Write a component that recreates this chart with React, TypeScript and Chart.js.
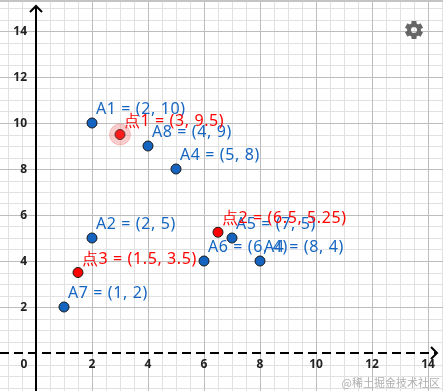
import React, { useEffect, useRef } from "react";
import { Chart, registerables } from "chart.js";

Chart.register(...registerables);

const blueX = [2, 2, 5, 7, 6, 1, 4, 8];
const blueY = [10, 5, 8, 5, 4, 2, 9, 4];
const blueLabels = ["A1 = (2, 10)", "A2 = (2, 5)", "A4 = (5, 8)", "A5 = (7, 5)", "A6 = (6, 4)", "A7 = (1, 2)", "A8 = (4, 9)", "A4 = (8, 4)"];
const redX = [3, 6.5, 1.5];
const redY = [9.5, 5.25, 3.5];
const redLabels = ["点1 = (3, 9.5)", "点2 = (6.5, 5.25)", "点3 = (1.5, 3.5)"];
const selectedIndex = 0;
const xTicks = [0, 2, 4, 6, 8, 10, 12, 14];
const yTicks = [2, 4, 6, 8, 10, 12, 14];
const watermark = "@稀土掘金技术社区";

const X_MIN = -36 / 28;
const X_MAX = (443 - 36) / 28;
const Y_MAX = 353 / 23;
const Y_MIN = -38 / 23;

const LABEL_FONT = '16px "Noto Sans", sans-serif';

const geoPlugin = {
  id: "geo",
  beforeDatasetsDraw(chart: any) {
    const ctx = chart.ctx as CanvasRenderingContext2D;
    const xs = chart.scales.x;
    const ys = chart.scales.y;
    const W = chart.width;
    const H = chart.height;
    ctx.save();
    ctx.fillStyle = "#ffffff";
    ctx.fillRect(0, 0, W, H);
    // minor grid
    ctx.lineWidth = 1;
    ctx.strokeStyle = "#e1e1e1";
    for (let v = -1; v <= 14.5; v += 0.5) {
      if (v % 2 === 0) continue;
      const p = Math.round(xs.getPixelForValue(v)) + 0.5;
      ctx.beginPath(); ctx.moveTo(p, 0); ctx.lineTo(p, H); ctx.stroke();
    }
    for (let v = -1.5; v <= 15.5; v += 0.5) {
      if (v % 2 === 0) continue;
      const p = Math.round(ys.getPixelForValue(v)) + 0.5;
      ctx.beginPath(); ctx.moveTo(0, p); ctx.lineTo(W, p); ctx.stroke();
    }
    // major grid
    ctx.strokeStyle = "#bdbdbd";
    for (let v = 2; v <= 14; v += 2) {
      const p = Math.round(xs.getPixelForValue(v)) + 0.5;
      ctx.beginPath(); ctx.moveTo(p, 0); ctx.lineTo(p, H); ctx.stroke();
    }
    for (let v = 2; v <= 14; v += 2) {
      const p = Math.round(ys.getPixelForValue(v)) + 0.5;
      ctx.beginPath(); ctx.moveTo(0, p); ctx.lineTo(W, p); ctx.stroke();
    }
    // top border
    ctx.fillStyle = "#c4c4c4";
    ctx.fillRect(0, 0, W, 2);

    const x0 = xs.getPixelForValue(0);
    const y0 = ys.getPixelForValue(0);
    // y axis
    ctx.strokeStyle = "#000";
    ctx.lineWidth = 2;
    ctx.beginPath(); ctx.moveTo(x0, 6); ctx.lineTo(x0, H); ctx.stroke();
    ctx.beginPath(); ctx.moveTo(x0 - 6, 12); ctx.lineTo(x0, 6); ctx.lineTo(x0 + 6, 12); ctx.stroke();
    // x axis (dashed)
    ctx.setLineDash([9, 5]);
    ctx.beginPath(); ctx.moveTo(0, y0); ctx.lineTo(W - 6, y0); ctx.stroke();
    ctx.setLineDash([]);
    ctx.beginPath(); ctx.moveTo(W - 12, y0 - 6); ctx.lineTo(W - 6, y0); ctx.lineTo(W - 12, y0 + 6); ctx.stroke();

    // tick labels
    ctx.fillStyle = "#222";
    ctx.font = 'bold 12px "Noto Sans", sans-serif';
    ctx.textAlign = "right";
    ctx.textBaseline = "middle";
    yTicks.forEach((v) => {
      ctx.fillText(String(v), x0 - 9, ys.getPixelForValue(v) + 1);
    });
    ctx.textAlign = "center";
    xTicks.forEach((v) => {
      const px = v === 0 ? x0 - 12 : xs.getPixelForValue(v);
      ctx.fillText(String(v), px, y0 + 12);
    });

    // point labels
    ctx.font = LABEL_FONT;
    (ctx as any).letterSpacing = "0.6px";
    ctx.textAlign = "left";
    ctx.textBaseline = "alphabetic";
    ctx.fillStyle = "#1565c0";
    blueX.forEach((x, i) => {
      ctx.fillText(blueLabels[i], xs.getPixelForValue(x) + 4, ys.getPixelForValue(blueY[i]) - 9);
    });
    ctx.fillStyle = "#ff0000";
    redX.forEach((x, i) => {
      ctx.fillText(redLabels[i], xs.getPixelForValue(x) + 4, ys.getPixelForValue(redY[i]) - 9);
    });
    (ctx as any).letterSpacing = "0px";
    ctx.restore();
  },
  afterDraw(chart: any) {
    const ctx = chart.ctx as CanvasRenderingContext2D;
    const W = chart.width;
    const H = chart.height;
    ctx.save();
    // gear icon
    const cx = 414, cy = 30;
    ctx.fillStyle = "#666";
    for (let k = 0; k < 6; k++) {
      const a = (k * Math.PI) / 3;
      ctx.save();
      ctx.translate(cx, cy);
      ctx.rotate(a);
      ctx.fillRect(-2.5, -9, 5, 4);
      ctx.restore();
    }
    ctx.beginPath();
    ctx.arc(cx, cy, 7, 0, Math.PI * 2);
    ctx.arc(cx, cy, 3, 0, Math.PI * 2, true);
    ctx.fill();
    // watermark
    ctx.fillStyle = "#b0b0b0";
    ctx.font = '11px "Noto Sans CJK SC", sans-serif';
    ctx.textAlign = "right";
    ctx.textBaseline = "middle";
    ctx.fillText(watermark, W - 3, H - 8);
    ctx.restore();
  },
};

export default function App() {
  const ref = useRef<HTMLCanvasElement>(null);
  useEffect(() => {
    document.body.style.margin = "0";
    const chart = new Chart(ref.current as HTMLCanvasElement, {
      type: "scatter",
      data: {
        datasets: [
          {
            data: [{ x: redX[selectedIndex], y: redY[selectedIndex] }],
            pointRadius: 10.5,
            backgroundColor: "rgba(240,90,90,0.3)",
            borderColor: "rgba(230,110,110,0.35)",
            borderWidth: 1,
          },
          {
            data: blueX.map((x, i) => ({ x, y: blueY[i] })),
            pointRadius: 5,
            backgroundColor: "#1565c0",
            borderColor: "#1a1a1a",
            borderWidth: 1,
          },
          {
            data: redX.map((x, i) => ({ x, y: redY[i] })),
            pointRadius: 5,
            backgroundColor: "#ff0000",
            borderColor: "#1a1a1a",
            borderWidth: 1,
          },
        ],
      },
      options: {
        responsive: false,
        animation: false,
        layout: { padding: 0, autoPadding: false },
        plugins: { legend: { display: false }, tooltip: { enabled: false } },
        scales: {
          x: { type: "linear", min: X_MIN, max: X_MAX, display: false },
          y: { type: "linear", min: Y_MIN, max: Y_MAX, display: false },
        },
      },
      plugins: [geoPlugin],
    });
    return () => chart.destroy();
  }, []);
  return (
    <div style={{ position: "fixed", left: 0, top: 0, width: 443, height: 391 }}>
      <canvas ref={ref} width={443} height={391} />
    </div>
  );
}
